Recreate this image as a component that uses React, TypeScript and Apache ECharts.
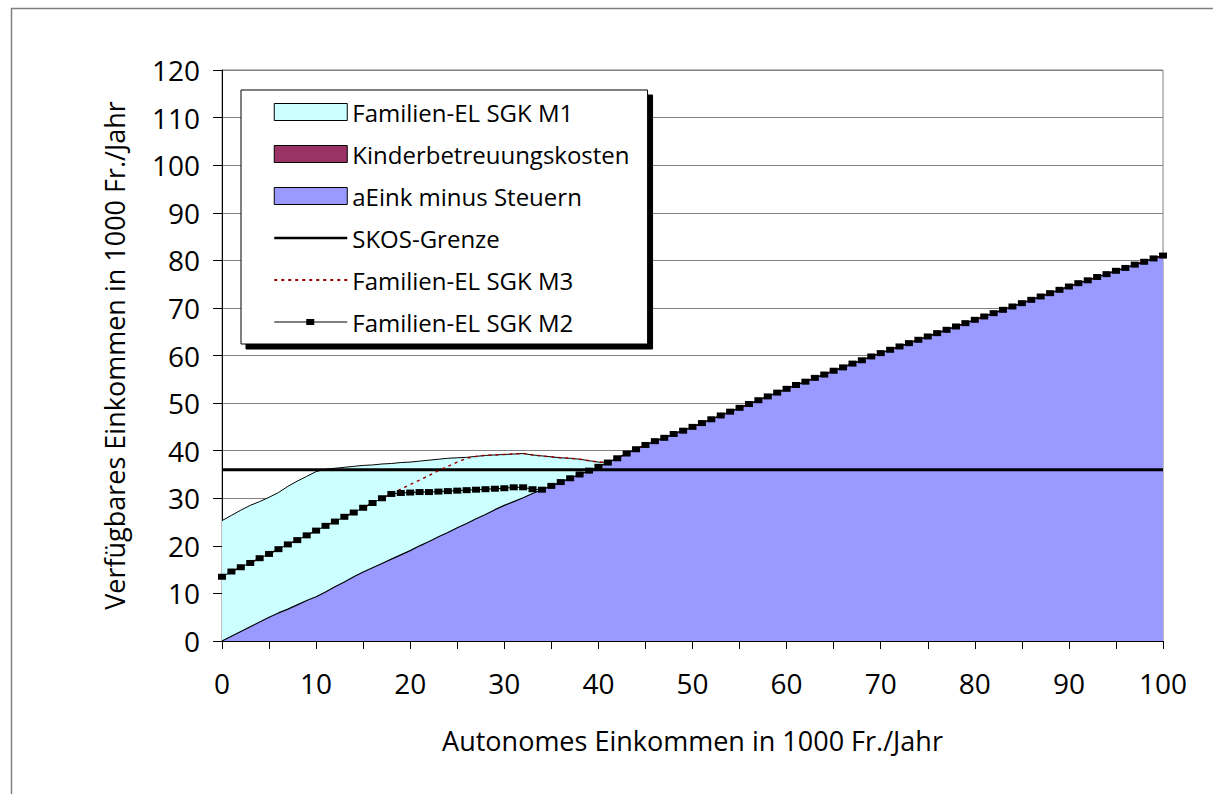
import React, { useEffect, useRef } from "react";
import * as echarts from "echarts";

const incomeX = [
  0, 1, 2, 3, 4, 5, 6, 7, 8, 9,
  10, 11, 12, 13, 14, 15, 16, 17, 18, 19,
  20, 21, 22, 23, 24, 25, 26, 27, 28, 29,
  30, 31, 32, 33, 34, 35, 36, 37, 38, 39,
  40, 41, 42, 43, 44, 45, 46, 47, 48, 49,
  50, 51, 52, 53, 54, 55, 56, 57, 58, 59,
  60, 61, 62, 63, 64, 65, 66, 67, 68, 69,
  70, 71, 72, 73, 74, 75, 76, 77, 78, 79,
  80, 81, 82, 83, 84, 85, 86, 87, 88, 89,
  90, 91, 92, 93, 94, 95, 96, 97, 98, 99,
  100,
];

const aEinkMinusSteuern = [
  0, 1.0, 2.0, 3.0, 4.0, 5.0, 5.9, 6.7, 7.6, 8.5,
  9.3, 10.3, 11.4, 12.4, 13.5, 14.5, 15.4, 16.3, 17.2, 18.1,
  19.0, 20.0, 20.9, 21.9, 22.8, 23.8, 24.7, 25.7, 26.6, 27.6,
  28.5, 29.3, 30.1, 31.0, 31.8, 32.6, 33.4, 34.2, 35.0, 35.8,
  36.6, 37.5, 38.4, 39.4, 40.3, 41.2, 42.0, 42.7, 43.5, 44.2,
  45.0, 45.8, 46.6, 47.4, 48.2, 49.0, 49.8, 50.6, 51.4, 52.2,
  53.0, 53.8, 54.5, 55.3, 56.0, 56.8, 57.5, 58.3, 59.0, 59.8,
  60.5, 61.2, 61.9, 62.6, 63.3, 64.0, 64.7, 65.4, 66.1, 66.8,
  67.5, 68.2, 68.9, 69.6, 70.3, 71.0, 71.7, 72.4, 73.1, 73.8,
  74.5, 75.2, 75.8, 76.5, 77.1, 77.8, 78.4, 79.1, 79.7, 80.4,
  81.0,
];

const familienElM1 = [
  25.3, 26.4, 27.5, 28.5, 29.3, 30.2, 31.2, 32.5, 33.6, 34.6,
  35.6, 36.1, 36.3, 36.5, 36.7, 36.9, 37.0, 37.2, 37.3, 37.5,
  37.6, 37.8, 38.0, 38.2, 38.4, 38.5, 38.6, 38.8, 39.0, 39.1,
  39.2, 39.3, 39.4, 39.1, 38.9, 38.7, 38.5, 38.4, 38.2, 37.9,
  37.6, 37.5, 38.4, 39.4, 40.3, 41.2, 42.0, 42.7, 43.5, 44.2,
  45.0, 45.8, 46.6, 47.4, 48.2, 49.0, 49.8, 50.6, 51.4, 52.2,
  53.0, 53.8, 54.5, 55.3, 56.0, 56.8, 57.5, 58.3, 59.0, 59.8,
  60.5, 61.2, 61.9, 62.6, 63.3, 64.0, 64.7, 65.4, 66.1, 66.8,
  67.5, 68.2, 68.9, 69.6, 70.3, 71.0, 71.7, 72.4, 73.1, 73.8,
  74.5, 75.2, 75.8, 76.5, 77.1, 77.8, 78.4, 79.1, 79.7, 80.4,
  81.0,
];

const familienElM2 = [
  13.5, 14.6, 15.5, 16.4, 17.4, 18.3, 19.3, 20.3, 21.2, 22.2,
  23.2, 24.2, 25.1, 26.1, 27.0, 28.0, 29.0, 30.0, 30.9, 31.1,
  31.2, 31.3, 31.3, 31.4, 31.5, 31.6, 31.7, 31.8, 31.9, 32.0,
  32.1, 32.3, 32.3, 31.9, 31.8, 32.6, 33.4, 34.2, 35.0, 35.8,
  36.6, 37.5, 38.4, 39.4, 40.3, 41.2, 42.0, 42.7, 43.5, 44.2,
  45.0, 45.8, 46.6, 47.4, 48.2, 49.0, 49.8, 50.6, 51.4, 52.2,
  53.0, 53.8, 54.5, 55.3, 56.0, 56.8, 57.5, 58.3, 59.0, 59.8,
  60.5, 61.2, 61.9, 62.6, 63.3, 64.0, 64.7, 65.4, 66.1, 66.8,
  67.5, 68.2, 68.9, 69.6, 70.3, 71.0, 71.7, 72.4, 73.1, 73.8,
  74.5, 75.2, 75.8, 76.5, 77.1, 77.8, 78.4, 79.1, 79.7, 80.4,
  81.0,
];

const familienElM3 = [
  13.5, 14.6, 15.5, 16.4, 17.4, 18.3, 19.3, 20.3, 21.2, 22.2,
  23.2, 24.2, 25.1, 26.1, 27.0, 28.0, 29.0, 30.0, 30.9, 31.9,
  32.9, 33.8, 34.8, 35.8, 36.7, 37.6, 38.4, 38.8, 39.0, 39.1,
  39.2, 39.3, 39.4, 39.1, 38.9, 38.7, 38.5, 38.4, 38.2, 37.9,
  37.6, 37.5, 38.4, 39.4, 40.3, 41.2, 42.0, 42.7, 43.5, 44.2,
  45.0, 45.8, 46.6, 47.4, 48.2, 49.0, 49.8, 50.6, 51.4, 52.2,
  53.0, 53.8, 54.5, 55.3, 56.0, 56.8, 57.5, 58.3, 59.0, 59.8,
  60.5, 61.2, 61.9, 62.6, 63.3, 64.0, 64.7, 65.4, 66.1, 66.8,
  67.5, 68.2, 68.9, 69.6, 70.3, 71.0, 71.7, 72.4, 73.1, 73.8,
  74.5, 75.2, 75.8, 76.5, 77.1, 77.8, 78.4, 79.1, 79.7, 80.4,
  81.0,
];

const kinderbetreuungskosten: number[] = [];

const skosX = [0, 100];
const skosGrenze = [36, 36];

const seriesNames = [
  "Familien-EL SGK M1",
  "Kinderbetreuungskosten",
  "aEink minus Steuern",
  "SKOS-Grenze",
  "Familien-EL SGK M3",
  "Familien-EL SGK M2",
];

const xAxisTitle = "Autonomes Einkommen in 1000 Fr./Jahr";
const yAxisTitle = "Verfügbares Einkommen in 1000 Fr./Jahr";

const FONT = "'Open Sans', 'Noto Sans', sans-serif";

// legend icon for the marker line: thin line with a small square in the middle
const M2_ICON =
  "path://M0,0L0.01,0L0,0Z M0,17L0.01,17L0,17Z M0,8L73,8L73,9L0,9Z M32,5.5L40,5.5L40,11.5L32,11.5Z";

const pairs = (xs: number[], ys: number[]) => ys.map((y, i) => [xs[i], y]);

export default function App() {
  const ref = useRef<HTMLDivElement>(null);

  useEffect(() => {
    if (!ref.current) return;
    const chart = echarts.init(ref.current, null, { renderer: "svg" });
    chart.setOption({
      animation: false,
      backgroundColor: "#ffffff",
      textStyle: { fontFamily: FONT },
      graphic: [
        {
          type: "rect",
          shape: { x: 11.5, y: 8.5, width: 1220, height: 820 },
          style: { fill: "none", stroke: "#808080", lineWidth: 1.5 },
          silent: true,
          z: -10,
        },
      ],
      grid: {
        left: 222,
        right: 50,
        top: 70,
        bottom: 153,
        show: true,
        borderColor: "#808080",
        borderWidth: 1,
        backgroundColor: "transparent",
      },
      legend: {
        orient: "vertical",
        left: 241,
        top: 90,
        padding: [10, 18, 10, 32],
        itemWidth: 73,
        itemHeight: 17,
        itemGap: 18,
        backgroundColor: "#ffffff",
        borderColor: "#000000",
        borderWidth: 1,
        shadowColor: "#000000",
        shadowOffsetX: 5,
        shadowOffsetY: 5,
        shadowBlur: 0,
        textStyle: { fontFamily: FONT, fontSize: 24, color: "#000" },
        selectedMode: false,
        data: [
          {
            name: seriesNames[0],
            icon: "rect",
            itemStyle: { color: "#CCFFFF", borderColor: "#000", borderWidth: 1 },
          },
          {
            name: seriesNames[1],
            icon: "rect",
            itemStyle: { color: "#993366", borderColor: "#000", borderWidth: 1 },
          },
          {
            name: seriesNames[2],
            icon: "rect",
            itemStyle: { color: "#9999FF", borderColor: "#000", borderWidth: 1 },
          },
          {
            name: seriesNames[3],
            lineStyle: { width: 2.5, color: "#000" },
            itemStyle: { color: "transparent", borderColor: "transparent", borderWidth: 0 },
          },
          {
            name: seriesNames[4],
            itemStyle: { color: "transparent", borderColor: "transparent", borderWidth: 0 },
          },
          {
            name: seriesNames[5],
            icon: M2_ICON,
            itemStyle: { color: "#000", borderWidth: 0 },
          },
        ],
      },
      xAxis: {
        type: "value",
        min: 0,
        max: 100,
        interval: 5,
        name: xAxisTitle,
        nameLocation: "middle",
        nameGap: 86,
        nameTextStyle: { fontFamily: FONT, fontSize: 27, color: "#000" },
        axisLine: { onZero: false, lineStyle: { color: "#000", width: 1 } },
        axisTick: { show: true, inside: false, length: 8, lineStyle: { color: "#000" } },
        axisLabel: {
          margin: 28,
          fontFamily: FONT,
          fontSize: 28,
          color: "#000",
          formatter: (v: number) => (v % 10 === 0 ? String(v) : ""),
        },
        splitLine: { show: false },
      },
      yAxis: {
        type: "value",
        min: 0,
        max: 120,
        interval: 10,
        name: yAxisTitle,
        nameLocation: "middle",
        nameGap: 94,
        nameRotate: 90,
        nameTextStyle: { fontFamily: FONT, fontSize: 27, color: "#000" },
        axisLine: { show: true, lineStyle: { color: "#000", width: 1 } },
        axisTick: { show: true, inside: false, length: 9, lineStyle: { color: "#000" } },
        axisLabel: { margin: 22, fontFamily: FONT, fontSize: 28, color: "#000" },
        splitLine: { show: true, lineStyle: { color: "#808080", width: 1 } },
      },
      series: [
        {
          name: seriesNames[0],
          type: "line",
          data: pairs(incomeX, familienElM1),
          symbol: "none",
          lineStyle: { color: "#000", width: 1 },
          itemStyle: { color: "#CCFFFF" },
          areaStyle: { color: "#CCFFFF", opacity: 1, origin: "start" },
          z: 1,
        },
        {
          name: seriesNames[1],
          type: "line",
          data: pairs(incomeX, kinderbetreuungskosten),
          symbol: "none",
          lineStyle: { color: "#000", width: 1 },
          itemStyle: { color: "#993366" },
          areaStyle: { color: "#993366", opacity: 1 },
          z: 2,
        },
        {
          name: seriesNames[2],
          type: "line",
          data: pairs(incomeX, aEinkMinusSteuern),
          symbol: "none",
          lineStyle: { color: "#000", width: 1.2 },
          itemStyle: { color: "#9999FF" },
          areaStyle: { color: "#9999FF", opacity: 1, origin: "start" },
          z: 3,
        },
        {
          name: seriesNames[3],
          type: "line",
          data: pairs(skosX, skosGrenze),
          symbol: "none",
          lineStyle: { color: "#000", width: 3 },
          itemStyle: { color: "#000" },
          z: 4,
        },
        {
          name: seriesNames[4],
          type: "line",
          data: pairs(incomeX, familienElM3),
          symbol: "none",
          lineStyle: { color: "#990000", width: 1.5, type: [3, 4] },
          itemStyle: { color: "#990000" },
          z: 5,
        },
        {
          name: seriesNames[5],
          type: "line",
          data: pairs(incomeX, familienElM2),
          symbol: "rect",
          symbolSize: [8, 6],
          showAllSymbol: true,
          lineStyle: { color: "#000", width: 1 },
          itemStyle: { color: "#000" },
          z: 6,
        },
      ],
    });
    return () => chart.dispose();
  }, []);

  return (
    <div
      ref={ref}
      style={{ position: "fixed", left: 0, top: 0, width: 1213, height: 794 }}
    />
  );
}
